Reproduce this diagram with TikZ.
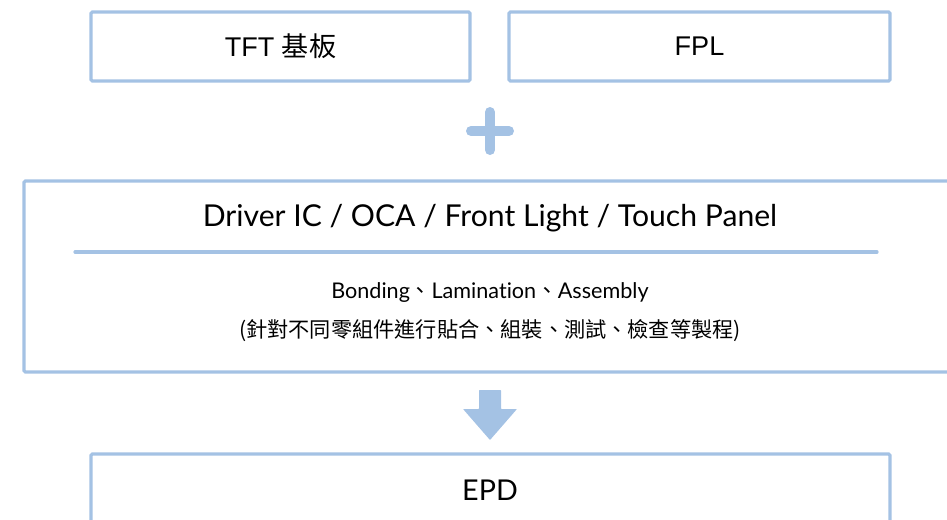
\documentclass[tikz,border=0pt]{standalone}
\usepackage{fontspec}
\setmainfont{Lato}[Ligatures=NoCommon]
\newfontfamily\arialfont{Liberation Sans}
\newfontfamily\cjk{Noto Sans CJK TC}
\usepackage{xcolor}
\usetikzlibrary{positioning}
\definecolor{paleblue}{RGB}{164,194,228}

\begin{document}
\begin{tikzpicture}[x=0.75pt,y=-0.75pt,
  partbox/.style={draw=paleblue,line width=2.4pt,rounded corners=1pt,minimum height=69*0.75pt,inner sep=0pt,font=\arialfont\fontsize{20.3}{24}\selectfont},
  bigtext/.style={font=\fontsize{22.6}{27}\selectfont},
  smalltext/.style={font=\fontsize{16.2}{20}\selectfont}]
\useasboundingbox (0,0) rectangle (947,519);
\clip (0,0) rectangle (947,519);

%top parts
\node[partbox,minimum width=379*0.75pt] (tft) at (280.5,46.5) {TFT {\cjk 基板}};
\node[partbox,minimum width=381*0.75pt] (fpl) at (699.5,46.5) {FPL};

%plus
\coordinate (plus) at (490,131);
\draw[paleblue,line width=7.5pt,line cap=round] ([xshift=-19*0.75pt]plus) -- ([xshift=19*0.75pt]plus);
\draw[paleblue,line width=7.5pt,line cap=round] ([yshift=19*0.75pt]plus) -- ([yshift=-19*0.75pt]plus);

%process box
\draw[paleblue,line width=2.4pt,rounded corners=1pt] (24,181) rectangle (975,372);
\node[bigtext] (title) at (490,218) {Driver IC / OCA / Front Light / Touch Panel};
\coordinate (lineL) at (75,252);
\coordinate (lineR) at (877,252);
\draw[paleblue,line width=2.4pt,line cap=round] (lineL) -- (lineR);
\node[smalltext] (steps) at (490,293) {Bonding{\cjk 、}Lamination{\cjk 、}Assembly};
\node[font=\cjk\fontsize{15.9}{20}\selectfont] (steps2) at (490,331) {(針對不同零組件進行貼合、組裝、測試、檢查等製程)};

%arrow
\fill[paleblue,rounded corners=0.5pt] (479,390) -- (501,390) -- (501,409) -- (517,409) -- (490,440) -- (463,409) -- (479,409) -- cycle;

%result
\draw[paleblue,line width=2.4pt,rounded corners=1pt] (91,560) -- (91,454) -- (890,454) -- (890,560);
\node[font=\fontsize{21.5}{25}\selectfont] (epd) at (490,490) {EPD};

\end{tikzpicture}
\end{document}
